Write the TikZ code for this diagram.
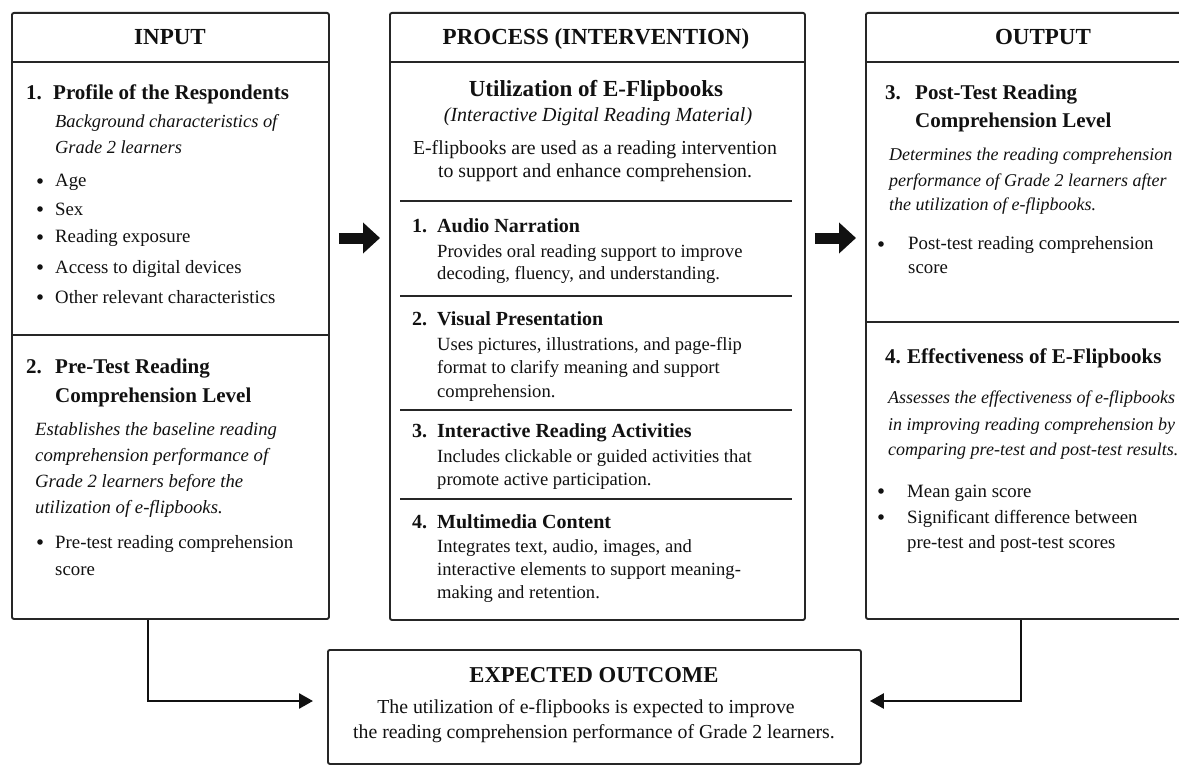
\documentclass[tikz,border=0pt]{standalone}
\usepackage{fontspec}
\setmainfont{Liberation Serif}
\usetikzlibrary{arrows.meta}
\definecolor{ink}{HTML}{111111}
\definecolor{linec}{HTML}{262626}
\begin{document}
\begin{tikzpicture}[x=1pt,y=-1pt,
  box/.style={draw=linec, line width=1.9pt, rounded corners=2pt, inner sep=0pt, anchor=north west, fill=white},
  divider/.style={draw=linec, line width=1.5pt},
  ttl/.style={font=\fontsize{23}{27}\selectfont\bfseries, anchor=base, text=ink, inner sep=0pt},
  hd/.style={font=\fontsize{21}{25}\selectfont\bfseries, anchor=base west, text=ink, inner sep=0pt},
  mhd/.style={font=\fontsize{20}{24}\selectfont\bfseries, anchor=base west, text=ink, inner sep=0pt},
  itx/.style={font=\fontsize{18.4}{22}\selectfont\itshape, anchor=base west, text=ink, inner sep=0pt},
  bd/.style={font=\fontsize{18.8}{22}\selectfont, anchor=base west, text=ink, inner sep=0pt},
  mbd/.style={font=\fontsize{18.6}{22}\selectfont, anchor=base west, text=ink, inner sep=0pt},
  ctr/.style={font=\fontsize{19.8}{23}\selectfont, anchor=base, text=ink, inner sep=0pt},
  bul/.style={circle, fill=ink, inner sep=0pt, minimum size=5.6pt},
  conn/.style={draw=ink, line width=2.6pt, -{Triangle[length=14pt,width=15pt]}},
  bigarrow/.style={draw=ink, line width=11pt, -{Triangle[length=17pt,width=30pt]}, shorten <=9pt, shorten >=9pt}
]
\useasboundingbox[fill=white] (0,0) rectangle (1179,765);

% ---------- boxes ----------
\node[box, minimum width=317, minimum height=606] (inbox) at (11,12) {};
\node[box, minimum width=415, minimum height=607] (procbox) at (389,12) {};
\node[box, minimum width=357, minimum height=606] (outbox) at (865,12) {};
\node[box, minimum width=533, minimum height=114] (outcome) at (327,649) {};

% header lines
\draw[divider] (inbox.west |- 0,62) -- (inbox.east |- 0,62);
\draw[divider] (procbox.west |- 0,62) -- (procbox.east |- 0,62);
\draw[divider] (outbox.west |- 0,62) -- (outbox.east |- 0,62);
% section dividers
\draw[divider] (inbox.west |- 0,335) -- (inbox.east |- 0,335);
\draw[divider] (outbox.west |- 0,322) -- (outbox.east |- 0,322);
\draw[divider] (400,201) -- (792,201);
\draw[divider] (400,296) -- (792,296);
\draw[divider] (400,410) -- (792,410);
\draw[divider] (400,499) -- (792,499);

% ---------- titles ----------
\node[ttl] (tin) at (170,45) {INPUT};
\node[ttl] (tproc) at (596,45) {PROCESS (INTERVENTION)};
\node[ttl] (tout) at (1043,45) {OUTPUT};

% ---------- INPUT ----------
\node[hd] (in1n) at (26,100) {1.};
\node[hd] (in1h) at (53,100) {Profile of the Respondents};
\node[itx] (in1i1) at (55,128) {Background characteristics of};
\node[itx] (in1i2) at (55,154) {Grade 2 learners};
\node[bul] (inb1) at (40,181) {};
\node[bd] (inb1t) at (55,187) {Age};
\node[bul] (inb2) at (40,209) {};
\node[bd] (inb2t) at (55,215) {Sex};
\node[bul] (inb3) at (40,237) {};
\node[bd] (inb3t) at (55,243) {Reading exposure};
\node[bul] (inb4) at (40,267) {};
\node[bd] (inb4t) at (55,273) {Access to digital devices};
\node[bul] (inb5) at (40,297) {};
\node[bd] (inb5t) at (55,303) {Other relevant characteristics};

\node[hd] (in2n) at (26,373) {2.};
\node[hd] (in2h1) at (55,373) {Pre-Test Reading};
\node[hd] (in2h2) at (55,402) {Comprehension Level};
\node[itx, font=\fontsize{18.7}{22}\selectfont\itshape] (in2i1) at (35,435) {Establishes the baseline reading};
\node[itx, font=\fontsize{18.7}{22}\selectfont\itshape] (in2i2) at (35,461) {comprehension performance of};
\node[itx, font=\fontsize{18.7}{22}\selectfont\itshape] (in2i3) at (35,487) {Grade 2 learners before the};
\node[itx, font=\fontsize{18.7}{22}\selectfont\itshape] (in2i4) at (35,513) {utilization of e-flipbooks.};
\node[bul] (in2b) at (40,542) {};
\node[bd] (in2b1) at (55,548) {Pre-test reading comprehension};
\node[bd] (in2b2) at (55,575) {score};

% ---------- PROCESS ----------
\node[ttl] (pu) at (596,97) {Utilization of E-Flipbooks};
\node[font=\fontsize{20}{24}\selectfont\itshape, anchor=base, text=ink, inner sep=0pt] (pi) at (598,122) {(Interactive Digital Reading Material)};
\node[ctr] (pd1) at (595,155) {E-flipbooks are used as a reading intervention};
\node[ctr] (pd2) at (595,178) {to support and enhance comprehension.};

\node[mhd] (p1n) at (412,233) {1.};
\node[mhd] (p1h) at (437,233) {Audio Narration};
\node[mbd] (p1a) at (437,257) {Provides oral reading support to improve};
\node[mbd] (p1b) at (437,279) {decoding, fluency, and understanding.};

\node[mhd] (p2n) at (412,325) {2.};
\node[mhd] (p2h) at (437,325) {Visual Presentation};
\node[mbd] (p2a) at (437,350) {Uses pictures, illustrations, and page-flip};
\node[mbd] (p2b) at (437,373) {format to clarify meaning and support};
\node[mbd] (p2c) at (437,397) {comprehension.};

\node[mhd] (p3n) at (412,437) {3.};
\node[mhd] (p3h) at (437,437) {Interactive Reading Activities};
\node[mbd] (p3a) at (437,462) {Includes clickable or guided activities that};
\node[mbd] (p3b) at (437,485) {promote active participation.};

\node[mhd] (p4n) at (412,528) {4.};
\node[mhd] (p4h) at (437,528) {Multimedia Content};
\node[mbd] (p4a) at (437,552) {Integrates text, audio, images, and};
\node[mbd] (p4b) at (437,575) {interactive elements to support meaning-};
\node[mbd] (p4c) at (437,598) {making and retention.};

% ---------- OUTPUT ----------
\node[hd] (o3n) at (885,100) {3.};
\node[hd] (o3h1) at (915,100) {Post-Test Reading};
\node[hd] (o3h2) at (915,128) {Comprehension Level};
\node[itx, font=\fontsize{18}{22}\selectfont\itshape] (o3i1) at (889,161) {Determines the reading comprehension};
\node[itx, font=\fontsize{18}{22}\selectfont\itshape] (o3i2) at (889,187) {performance of Grade 2 learners after};
\node[itx, font=\fontsize{18}{22}\selectfont\itshape] (o3i3) at (889,211) {the utilization of e-flipbooks.};
\node[bul] (o3b) at (881,244) {};
\node[bd] (o3b1) at (908,250) {Post-test reading comprehension};
\node[bd] (o3b2) at (908,273) {score};

\node[hd] (o4n) at (885,363) {4.};
\node[hd] (o4h) at (907,363) {Effectiveness of E-Flipbooks};
\node[itx, font=\fontsize{18}{22}\selectfont\itshape] (o4i1) at (888,403) {Assesses the effectiveness of e-flipbooks};
\node[itx, font=\fontsize{18}{22}\selectfont\itshape] (o4i2) at (888,430) {in improving reading comprehension by};
\node[itx, font=\fontsize{18}{22}\selectfont\itshape] (o4i3) at (888,455) {comparing pre-test and post-test results.};
\node[bul] (o4b1) at (881,491) {};
\node[bd] (o4b1t) at (907,497) {Mean gain score};
\node[bul] (o4b2) at (881,517) {};
\node[bd] (o4b2t) at (907,523) {Significant difference between};
\node[bd] (o4b2u) at (907,548) {pre-test and post-test scores};

% ---------- EXPECTED OUTCOME ----------
\node[ttl, font=\fontsize{22.7}{26}\selectfont\bfseries] (eot) at (594,682) {EXPECTED OUTCOME};
\node[ctr] (eo1) at (586,713) {The utilization of e-flipbooks is expected to improve};
\node[ctr] (eo2) at (594,738) {the reading comprehension performance of Grade 2 learners.};

% ---------- arrows ----------
\draw[bigarrow] (inbox.east |- 0,238) -- (procbox.west |- 0,238);
\draw[bigarrow] (procbox.east |- 0,238) -- (outbox.west |- 0,238);
\draw[conn, shorten >=14pt] (inbox.south -| 148,0) |- (outcome.west |- 0,701);
\draw[conn, shorten >=8pt] (outbox.south -| 1021,0) |- (outcome.east |- 0,701);
\end{tikzpicture}
\end{document}
